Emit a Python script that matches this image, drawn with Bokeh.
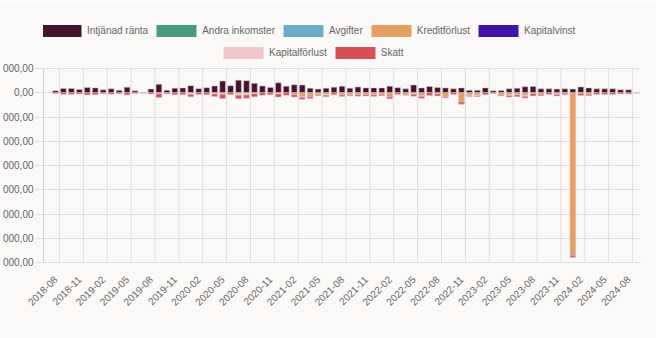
import numpy as np
from bokeh.plotting import figure
from bokeh.models import (Range1d, LinearAxis, FixedTicker, Grid, Legend,
                          LegendItem, ColumnDataSource)
from bokeh.embed import file_html
from bokeh.resources import INLINE

# ---------------- data ----------------
months = [f"{y}-{m:02d}" for y in range(2018, 2025) for m in range(1, 13)][6:81]  # 2018-07 .. 2024-09

intjanad_ranta = [
    0, 80, 180, 180, 130, 220, 200, 120, 160, 100, 230, 80,
    0, 150, 350, 100, 190, 200, 290, 170, 210, 280, 480, 290,
    520, 500, 390, 280, 220, 410, 270, 330, 320, 190, 150, 190,
    230, 270, 190, 240, 200, 200, 200, 270, 210, 160, 320, 200,
    260, 220, 200, 160, 200, 100, 100, 200, 80, 90, 160, 190,
    250, 260, 160, 160, 150, 160, 150, 240, 200, 160, 160, 160,
    120, 120, 0]
andra_inkomster = [0] * 75
avgifter = [
    0, 0, 0, 0, 0, 0, 0, 0, 0, 0, 0, 0,
    -20, 0, 0, 0, 0, 0, 0, 0, 0, 0, 0, 0,
    0, 0, 0, 0, 0, 0, 0, 0, 0, 0, 0, 0,
    0, 0, 0, 0, 0, 0, 0, 0, 0, 0, 0, 0,
    0, 0, 0, 0, 0, 0, 0, 0, 0, 0, 0, 0,
    0, 0, 0, 0, 0, 0, 0, 0, 0, 0, 0, 0,
    0, 0, -15]
kreditforlust = [
    0, 0, 0, 0, 0, 0, 0, 0, 0, 0, 0, 0,
    0, 0, 0, 0, 0, 0, 0, 0, 0, 0, 0, 0,
    0, 0, 0, 0, 0, 0, 0, -80, -150, -170, -80, -60,
    0, -90, -100, -80, -70, -90, -60, -170, 0, -60, 0, -120,
    0, -50, -150, 0, -380, -90, -90, 0, 0, -100, -90, -90,
    -100, 0, -60, 0, -50, 0, -6700, 0, -60, 0, 0, 0,
    0, 0, 0]
kapitalvinst = [0] * 75
kapitalforlust = [
    0, 0, 0, 0, 0, 0, 0, 0, 0, 0, 0, 0,
    0, 0, -40, 0, 0, 0, -60, 0, 0, -50, -60, 0,
    -100, -90, -40, 0, 0, -50, 0, 0, -40, 0, 0, -40,
    0, 0, 0, 0, 0, 0, 0, 0, 0, 0, -60, -30,
    0, 0, 0, 0, 0, -30, -40, 0, 0, 0, -30, 0,
    -50, -30, 0, 0, -20, -20, 0, -30, 0, 0, 0, 0,
    0, 0, 0]
skatt = [
    0, -30, -70, -70, -50, -90, -80, -40, -60, -40, -90, -30,
    0, -50, -160, -40, -80, -80, -110, -70, -80, -100, -180, -80,
    -150, -140, -130, -100, -80, -130, -100, -100, -80, -70, -40, -60,
    -80, -60, -30, -60, -60, -60, -60, -80, -70, -40, -80, -80,
    -110, -80, -60, -70, -90, -30, -30, -80, -30, -30, -60, -70,
    -70, -100, -60, -70, -60, -60, -80, -80, -60, -70, -70, -70,
    -50, -50, 0]

series_names = ["Intjänad ränta", "Andra inkomster", "Avgifter", "Kreditförlust",
                "Kapitalvinst", "Kapitalförlust", "Skatt"]
series_values = [intjanad_ranta, andra_inkomster, avgifter, kreditforlust,
                 kapitalvinst, kapitalforlust, skatt]
series_colors = ["#43152d", "#4a9a7e", "#6aadc6", "#e3a062", "#3f14a8", "#f0c7c9", "#d94f58"]

y_ticks = [1000, 0, -1000, -2000, -3000, -4000, -5000, -6000, -7000]
y_tick_labels = ["1 000,00", "0,00", "−1 000,00", "−2 000,00", "−3 000,00",
                 "−4 000,00", "−5 000,00", "−6 000,00", "−7 000,00"]

# ---------------- style / layout ----------------
BG = "#faf9f8"
GRID = "#e0dfdd"
AXIS = "#d2d1cf"
TXT = "#666666"
FONT = "Liberation Sans"
BORDER = "#d8c2ca"

n = len(months)
x = np.arange(n)
label_idx = list(range(1, n, 3))
edge_ticks = [i + 0.5 for i in label_idx]

TOP_PX = 10          # frame top (legends live in the frame's upper strip)
AXIS_TOP_PX = 68     # where the y axis' max tick sits
BOTTOM_PX = 262
y_lo, y_hi = min(y_ticks), max(y_ticks)
px_per_unit = (BOTTOM_PX - AXIS_TOP_PX) / (y_hi - y_lo)
y_top = y_hi + (AXIS_TOP_PX - TOP_PX) / px_per_unit
FRAME_H = BOTTOM_PX - TOP_PX

p = figure(width=684, height=338,
           x_range=Range1d(-0.5, n - 0.5), y_range=Range1d(y_lo, y_top),
           x_axis_type=None, y_axis_type=None,
           toolbar_location=None, output_backend="svg",
           min_border_left=71, min_border_right=16,
           min_border_top=TOP_PX, min_border_bottom=338 - BOTTOM_PX,
           background_fill_color=BG, border_fill_color=BG,
           outline_line_color=None, margin=(0, 0, 0, -28))

# horizontal grid
p.add_layout(Grid(dimension=1, ticker=FixedTicker(ticks=y_ticks),
                  grid_line_color=GRID, grid_line_width=1))
# vertical grid lines between category groups (limited to the axis span)
p.segment(x0=edge_ticks, x1=edge_ticks, y0=[y_lo] * len(edge_ticks), y1=[y_hi] * len(edge_ticks),
          line_color=GRID, line_width=1)

# stacked bars (positives up, negatives down)
pos = np.zeros(n)
neg = np.zeros(n)
renderers = []
for name, vals, col in zip(series_names, series_values, series_colors):
    v = np.array(vals, dtype=float)
    bottom = np.where(v >= 0, pos, neg)
    top = bottom + v
    pos = np.where(v > 0, top, pos)
    neg = np.where(v < 0, top, neg)
    la = np.where(v != 0, 0.55, 0.0)
    src = ColumnDataSource(dict(x=x, top=top, bottom=bottom, la=la))
    r = p.vbar(x="x", top="top", bottom="bottom", width=0.72, source=src,
               fill_color=col, line_color=BORDER, line_width=1, line_alpha="la")
    renderers.append(r)

# y axis
yax = LinearAxis(ticker=FixedTicker(ticks=y_ticks), bounds=(y_lo, y_hi),
                 major_label_overrides={t: l for t, l in zip(y_ticks, y_tick_labels)},
                 major_tick_out=8, major_tick_in=0, minor_tick_out=0, minor_tick_in=0,
                 major_label_standoff=2, axis_line_color=AXIS,
                 major_tick_line_color=GRID,
                 major_label_text_font=FONT, major_label_text_font_size="10px",
                 major_label_text_color=TXT)
p.add_layout(yax, "left")

# x axis: month labels at category centres
xax = LinearAxis(ticker=FixedTicker(ticks=label_idx),
                 major_label_overrides={i: months[i] for i in label_idx},
                 major_label_orientation=np.pi / 4,
                 major_tick_out=8, major_tick_in=0, minor_tick_out=0, minor_tick_in=0,
                 major_label_standoff=7, axis_line_color=GRID,
                 major_tick_line_color=None,
                 major_label_text_font=FONT, major_label_text_font_size="10px",
                 major_label_text_color=TXT)
p.add_layout(xax, "below")

# legends (two rows in the strip above the axis span)
def make_legend(idx, loc):
    return Legend(items=[LegendItem(label=series_names[i], renderers=[renderers[i]]) for i in idx],
                  orientation="horizontal", location=loc, margin=0, padding=0,
                  spacing=3, glyph_width=50, glyph_height=15, label_height=15,
                  label_standoff=1, label_text_font=FONT, label_text_font_size="10px",
                  label_text_color=TXT, background_fill_alpha=0, border_line_alpha=0)

p.add_layout(make_legend([0, 1, 2, 3, 4], (-7, FRAME_H - 20 - 8)))
p.add_layout(make_legend([5, 6], (175, FRAME_H - 42 - 8)))

open("out.html", "w").write(file_html(p, INLINE))
